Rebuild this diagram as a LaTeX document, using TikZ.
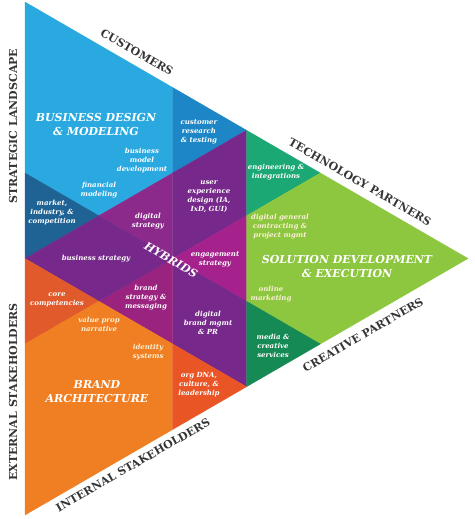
\documentclass[tikz,border=0pt]{standalone}
\usepackage{fontspec}
\setmainfont{DejaVu Serif}
\usepackage{xcolor}
\usetikzlibrary{calc}
\definecolor{skyblue}{HTML}{2AA9E0}
\definecolor{custblue}{HTML}{1C86C6}
\definecolor{marketblue}{HTML}{1E6394}
\definecolor{hybpurple}{HTML}{76298A}
\definecolor{hybviolet}{HTML}{8C2A8C}
\definecolor{hybpink}{HTML}{A5228D}
\definecolor{hybrose}{HTML}{9B2380}
\definecolor{limegreen}{HTML}{8DC63F}
\definecolor{tealgreen}{HTML}{1BA874}
\definecolor{deepgreen}{HTML}{168A55}
\definecolor{brandorange}{HTML}{F07E22}
\definecolor{rustorange}{HTML}{E05A2B}
\definecolor{redorange}{HTML}{EA5526}
\definecolor{edgegray}{HTML}{353535}
\definecolor{cream}{HTML}{FBF1D6}

\begin{document}
\begin{tikzpicture}[x=1pt, y=-1pt,
    region/.style={fill=#1, draw=#1, line width=0.3pt, line join=round},
    small label/.style={text=white, align=center, inner sep=0pt, font=\fontsize{7}{9}\bfseries\itshape\selectfont},
    big label/.style={text=white, align=center, inner sep=0pt, font=\fontsize{11}{14}\bfseries\itshape\selectfont},
    edge label/.style={text=edgegray, inner sep=0pt, font=\fontsize{11}{13}\bfseries\selectfont}]
    \useasboundingbox (0,0) rectangle (474,519);

    \coordinate (top) at (25,2);
    \coordinate (bottom) at (25,515);
    \coordinate (tip) at (468,258.5);
    \coordinate (t1) at ($(top)!1/3!(tip)$);
    \coordinate (tm) at ($(top)!1/2!(tip)$);
    \coordinate (t2) at ($(top)!2/3!(tip)$);
    \coordinate (b1) at ($(bottom)!1/3!(tip)$);
    \coordinate (bm) at ($(bottom)!1/2!(tip)$);
    \coordinate (b2) at ($(bottom)!2/3!(tip)$);
    \coordinate (l1) at ($(top)!1/3!(bottom)$);
    \coordinate (lm) at ($(top)!1/2!(bottom)$);
    \coordinate (l2) at ($(top)!2/3!(bottom)$);
    \coordinate (p1) at ($(lm)!1/3!(tm)$);
    \coordinate (p2) at ($(lm)!2/3!(tm)$);
    \coordinate (q1) at ($(lm)!1/3!(bm)$);
    \coordinate (q2) at ($(lm)!2/3!(bm)$);
    \coordinate (r1) at ($(tm)!1/3!(bm)$);
    \coordinate (r2) at ($(tm)!2/3!(bm)$);
    \coordinate (centre) at ($(p2)!1/2!(q2)$);

    \path[region=skyblue] (top) -- (t1) -- (p2) -- (p1) -- (l1) -- cycle;
    \path[region=custblue] (t1) -- (tm) -- (p2) -- cycle;
    \path[region=marketblue] (l1) -- (p1) -- (lm) -- cycle;
    \path[region=hybviolet] (p1) -- (p2) -- (centre) -- cycle;
    \path[region=hybpurple] (p2) -- (tm) -- (r1) -- (centre) -- cycle;
    \path[region=hybpink] (r1) -- (r2) -- (centre) -- cycle;
    \path[region=hybpurple] (r2) -- (bm) -- (q2) -- (centre) -- cycle;
    \path[region=hybrose] (q2) -- (q1) -- (centre) -- cycle;
    \path[region=hybpurple] (q1) -- (lm) -- (p1) -- (centre) -- cycle;
    \path[region=tealgreen] (tm) -- (t2) -- (r1) -- cycle;
    \path[region=limegreen] (t2) -- (tip) -- (b2) -- (r2) -- (r1) -- cycle;
    \path[region=deepgreen] (r2) -- (b2) -- (bm) -- cycle;
    \path[region=rustorange] (lm) -- (q1) -- (l2) -- cycle;
    \path[region=brandorange] (l2) -- (q1) -- (q2) -- (b1) -- (bottom) -- cycle;
    \path[region=redorange] (q2) -- (bm) -- (b1) -- cycle;

    \node[edge label, rotate=90] (landscape) at (13,126) {STRATEGIC LANDSCAPE};
    \node[edge label, rotate=90] (external) at (13,392) {EXTERNAL STAKEHOLDERS};
    \node[edge label, rotate=-30] (customers) at (137,52) {CUSTOMERS};
    \node[edge label, rotate=-30] (technology) at (360,182) {TECHNOLOGY PARTNERS};
    \node[edge label, rotate=30] (creative) at (363,335) {CREATIVE PARTNERS};
    \node[edge label, rotate=30] (internal) at (133,465) {INTERNAL STAKEHOLDERS};

    \node[big label] (bizdesign) at (96,124) {BUSINESS DESIGN\\\& MODELING};
    \node[big label] (solution) at (347,266) {SOLUTION DEVELOPMENT\\\& EXECUTION};
    \node[big label] (brandarch) at (97,392) {BRAND\\ARCHITECTURE};
    \node[big label, rotate=-30] (hybrids) at (171,260) {HYBRIDS};

    \node[small label] (custresearch) at (199,132) {customer\\research\\\& testing};
    \node[small label] (bizmodel) at (142,161) {business\\model\\development};
    \node[small label] (financial) at (99,190) {financial\\modeling};
    \node[small label] (market) at (52,213) {market,\\industry, \&\\competition};
    \node[small label] (userexp) at (209,197) {user\\experience\\design (IA,\\IxD, GUI)};
    \node[small label] (digistrat) at (148,221) {digital\\strategy};
    \node[small label] (bizstrat) at (96,259) {business strategy};
    \node[small label] (engage) at (215,259) {engagement\\strategy};
    \node[small label] (core) at (57,300) {core\\competencies};
    \node[small label] (brandstrat) at (146,298) {brand\\strategy \&\\messaging};
    \node[small label, text=cream] (valueprop) at (99,324) {value prop\\narrative};
    \node[small label] (digibrand) at (208,323) {digital\\brand mgmt\\\& PR};
    \node[small label, text=cream] (identity) at (148,352) {identity\\systems};
    \node[small label] (orgdna) at (199,385) {org DNA,\\culture, \&\\leadership};
    \node[small label] (media) at (273,346) {media \&\\creative\\services};
    \node[small label, text=cream] (online) at (271,294) {online\\marketing};
    \node[small label, text=cream] (contracting) at (280,227) {digital general\\contracting \&\\project mgmt};
    \node[small label] (engineering) at (276,172) {engineering \&\\integrations};
\end{tikzpicture}
\end{document}
